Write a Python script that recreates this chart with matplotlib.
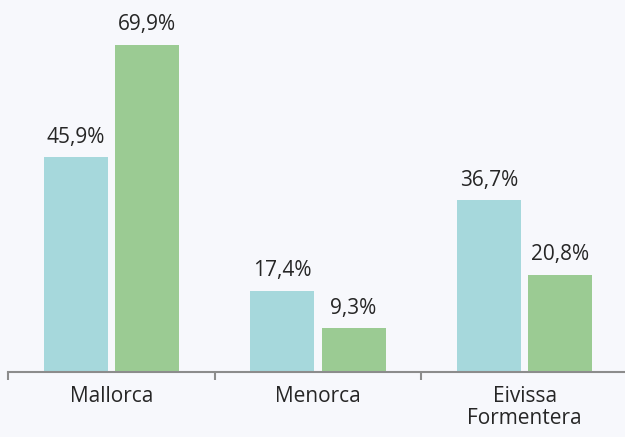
import numpy as np
import matplotlib.pyplot as plt

# Data
islands = ['Mallorca', 'Menorca', 'Eivissa\nFormentera']
serie_a = [45.9, 17.4, 36.7]
serie_b = [69.9, 9.3, 20.8]

teal = '#A6D8DC'
green = '#9BCB93'
bg = '#F7F8FC'

plt.rcParams['font.family'] = ['Open Sans', 'DejaVu Sans']

fig = plt.figure(figsize=(6.25, 4.37), dpi=100, facecolor=bg)
ax = fig.add_axes([8 / 625, 1 - 372 / 437, 620 / 625, 372 / 437])
ax.set_facecolor(bg)

x = np.arange(len(islands))
width = 0.31
off = 0.172

b1 = ax.bar(x - off, serie_a, width=width, color=teal)
b2 = ax.bar(x + off, serie_b, width=width, color=green)

for bars, vals in [(b1, serie_a), (b2, serie_b)]:
    for rect, v in zip(bars, vals):
        ax.annotate(f"{v:.1f}%".replace('.', ','),
                    (rect.get_x() + rect.get_width() / 2, v),
                    xytext=(0, 7), textcoords='offset points',
                    ha='center', va='bottom', fontsize=15, color='#262626')

ax.set_xlim(-0.5, 2.5)
ax.set_ylim(0, 79.5)

for s in ['top', 'right', 'left']:
    ax.spines[s].set_visible(False)
ax.spines['bottom'].set_color('#8C8C8C')
ax.spines['bottom'].set_linewidth(1.5)
ax.set_yticks([])

ax.set_xticks(x)
ax.set_xticklabels(islands, fontsize=15, color='#262626', linespacing=1.05)
ax.tick_params(axis='x', which='major', length=0, pad=10)
ax.set_xticks([-0.5, 0.5, 1.5, 2.5], minor=True)
ax.tick_params(axis='x', which='minor', length=6, width=1.5, color='#8C8C8C', direction='out')

fig.savefig('out.png', dpi=100, facecolor=bg)
